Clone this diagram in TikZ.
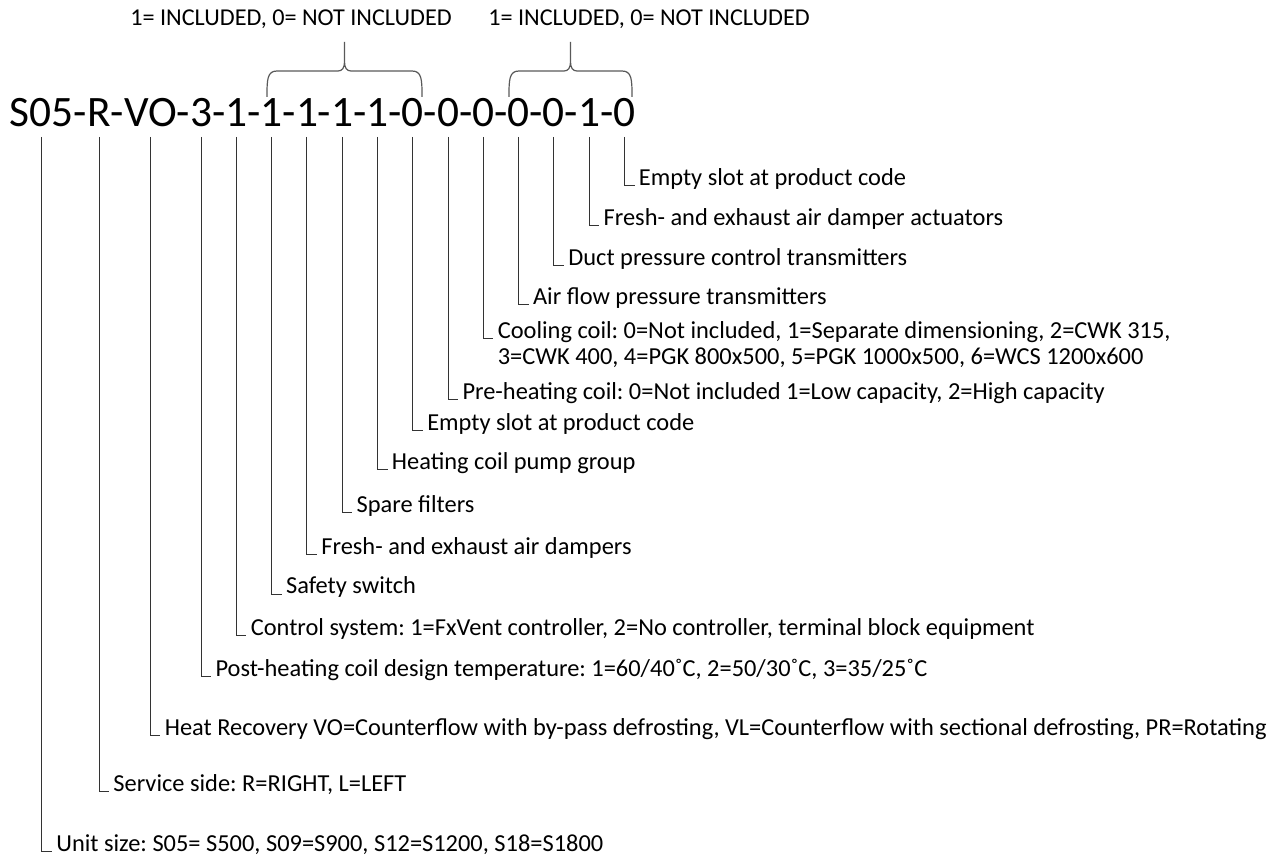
\documentclass[tikz,border=0pt]{standalone}
\usepackage{fontspec}
\setmainfont{Carlito}
\frenchspacing
\usetikzlibrary{positioning}

\tikzset{
  codeseg/.style={inner xsep=0pt,inner ysep=5pt,outer sep=0pt,text height=0.65em,text depth=0pt,font=\fontsize{21.7}{26}\selectfont},
  lbl/.style={anchor=base west,inner xsep=2.2pt,inner ysep=0pt,outer sep=0pt,font=\fontsize{12.2}{14}\selectfont},
  toplbl/.style={anchor=base,inner sep=0pt,font=\fontsize{12.1}{14}\selectfont},
  lead/.style={draw=black!80,line width=0.5pt},
  bracket/.style={draw=black!65,line width=0.6pt}
}

\begin{document}
\begin{tikzpicture}[x=0.5pt,y=-0.5pt]
\useasboundingbox (0,0) rectangle (1276,861);

% product code
\node[codeseg,anchor=base west] (c1) at (10,127) {S05};
\foreach \d [count=\i from 2, remember=\i as \j (initially 1)] in {R,VO,3,1,1,1,1,1,0,0,0,0,0,1,0} {
  \node[codeseg,right=0pt of c\j] (h\i) {-};
  \node[codeseg,right=0pt of h\i] (c\i) {\d};
}

% groups
\node[toplbl] (top1) at (291,26) {1= INCLUDED, 0= NOT INCLUDED};
\node[toplbl] (top2) at (649,26) {1= INCLUDED, 0= NOT INCLUDED};
\draw[bracket] (267,97) .. controls (267,80) and (267,71) .. (277,71) -- (338,71)
  .. controls (342,71) and (344.5,68) .. (344.5,62) -- (344.5,42)
  (344.5,62) .. controls (344.5,68) and (347,71) .. (351,71) -- (412,71)
  .. controls (422,71) and (422,80) .. (422,97);
\draw[bracket] (509,97) .. controls (509,80) and (509,71) .. (519,71) -- (564,71)
  .. controls (568,71) and (570.5,68) .. (570.5,62) -- (570.5,42)
  (570.5,62) .. controls (570.5,68) and (573,71) .. (577,71) -- (622,71)
  .. controls (632,71) and (632,80) .. (632,97);

% explanations
\node[lbl,xshift=5pt] (l16) at (c16.south |- 0,186) {Empty slot at product code};
\node[lbl,xshift=5pt] (l15) at (c15.south |- 0,226) {Fresh- and exhaust air damper actuators};
\node[lbl,xshift=5pt] (l14) at (c14.south |- 0,266) {Duct pressure control transmitters};
\node[lbl,xshift=5pt] (l13) at (c13.south |- 0,305) {Air flow pressure transmitters};
\node[lbl,xshift=5pt] (l12) at (c12.south |- 0,339) {Cooling coil: 0=Not included, 1=Separate dimensioning, 2=CWK 315,};
\node[lbl,anchor=base west,yshift=-13pt] (l12b) at (l12.base west) {3=CWK 400, 4=PGK 800x500, 5=PGK 1000x500, 6=WCS 1200x600};
\node[lbl,xshift=5pt] (l11) at (c11.south |- 0,400) {Pre-heating coil: 0=Not included 1=Low capacity, 2=High capacity};
\node[lbl,xshift=5pt] (l10) at (c10.south |- 0,431) {Empty slot at product code};
\node[lbl,xshift=5pt] (l9) at (c9.south |- 0,470) {Heating coil pump group};
\node[lbl,xshift=5pt] (l8) at (c8.south |- 0,513) {Spare filters};
\node[lbl,xshift=5pt] (l7) at (c7.south |- 0,554) {Fresh- and exhaust air dampers};
\node[lbl,xshift=5pt] (l6) at (c6.south |- 0,594) {Safety switch};
\node[lbl,xshift=5pt] (l5) at (c5.south |- 0,635) {Control system: 1=FxVent controller, 2=No controller, terminal block equipment};
\node[lbl,xshift=5pt] (l4) at (c4.south |- 0,676) {Post-heating coil design temperature: 1=60/40˚C, 2=50/30˚C, 3=35/25˚C};
\node[lbl,xshift=5pt] (l3) at (c3.south |- 0,735) {Heat Recovery VO=Counterflow with by-pass defrosting, VL=Counterflow with sectional defrosting, PR=Rotating};
\node[lbl,xshift=5pt] (l2) at (c2.south |- 0,791) {Service side: R=RIGHT, L=LEFT};
\node[lbl,xshift=5pt] (l1) at (c1.south |- 0,851) {Unit size: S05= S500, S09=S900, S12=S1200, S18=S1800};

\foreach \i in {1,...,16}
  \draw[lead] (c\i.south) |- (l\i.base west);
\end{tikzpicture}
\end{document}
